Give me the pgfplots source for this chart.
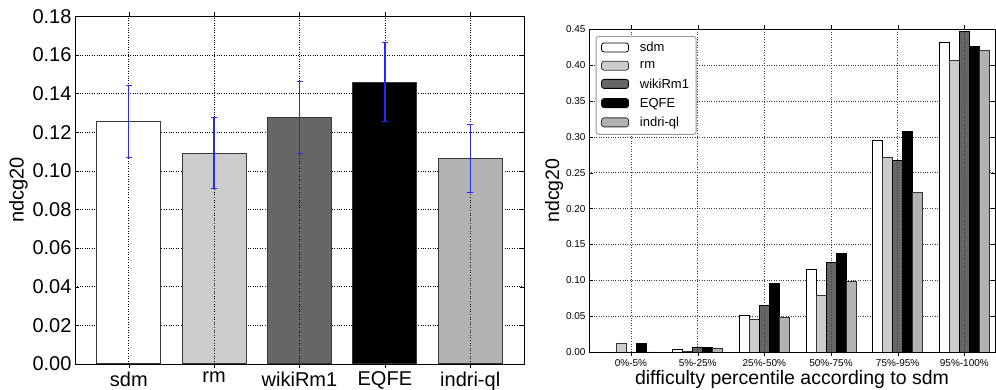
\documentclass[border=0pt]{standalone}
\usepackage{fontspec}
\setmainfont{Liberation Sans}
\usepackage{pgfplots}
\pgfplotsset{compat=1.18}
\definecolor{cSdm}{gray}{1.0}
\definecolor{cRm}{gray}{0.8}
\definecolor{cWiki}{gray}{0.4}
\definecolor{cEqfe}{gray}{0.0}
\definecolor{cIndri}{gray}{0.7}
\definecolor{edgeL}{gray}{0.22}
\definecolor{errB}{rgb}{0.15,0.15,1.0}
\begin{document}
\begin{tikzpicture}[x=1pt,y=1pt]
\useasboundingbox (0,0) rectangle (996,390);
% ---------------- left chart ----------------
\begin{axis}[
  at={(75pt,26pt)}, anchor=south west, scale only axis,
  width=449pt, height=347.7pt,
  xmin=-0.63, xmax=4.63, ymin=0, ymax=0.18,
  ytick={0,0.02,0.04,0.06,0.08,0.10,0.12,0.14,0.16,0.18},
  xtick={0,1,2,3,4},
  xticklabels={sdm,rm,wikiRm1,EQFE,indri-ql},
  /pgf/number format/assume math mode=true,
  yticklabel style={/pgf/number format/.cd,fixed,fixed zerofill,precision=2},
  ticklabel style={font=\fontsize{20}{24}\selectfont},
  ylabel={ndcg20},
  ylabel style={font=\fontsize{20}{24}\selectfont, at={(axis description cs:-0.126,0.5)}, anchor=center},
  grid=major, grid style={black, dotted, line width=0.6pt},
  tick align=inside, major tick length=4pt, tick style={black},
  axis line style={black, line width=0.8pt},
  ybar, bar width=0.75, bar shift=0,
  error bars/y dir=both, error bars/y explicit,
  error bars/error bar style={color=errB, draw=errB, line width=1.4pt},
  error bars/error mark options={rotate=90, color=errB, draw=errB, mark size=3pt, line width=1pt},
]
\addplot[fill=cSdm, draw=edgeL, line width=1pt] coordinates {(0,0.1257) +- (0,0.0187)};
\addplot[fill=cRm, draw=edgeL, line width=1pt] coordinates {(1,0.1092) +- (0,0.0183)};
\addplot[fill=cWiki, draw=edgeL, line width=1pt] coordinates {(2,0.1277) +- (0,0.0187)};
\addplot[fill=cEqfe, draw=edgeL, line width=1pt] coordinates {(3,0.1458) +- (0,0.0204)};
\addplot[fill=cIndri, draw=edgeL, line width=1pt] coordinates {(4,0.1064) +- (0,0.0177)};
% vertical grid lines showing through the bars, below the error bars
\draw[black, dotted, line width=0.6pt] (axis cs:0,0) -- (axis cs:0,0.1070);
\draw[black, dotted, line width=0.6pt] (axis cs:1,0) -- (axis cs:1,0.0909);
\draw[black, dotted, line width=0.6pt] (axis cs:2,0) -- (axis cs:2,0.1090);
\draw[black, dotted, line width=0.6pt] (axis cs:3,0) -- (axis cs:3,0.1254);
\draw[black, dotted, line width=0.6pt] (axis cs:4,0) -- (axis cs:4,0.0887);
\end{axis}
% ---------------- right chart ----------------
\begin{axis}[
  at={(589pt,38pt)}, anchor=south west, scale only axis,
  width=406pt, height=322.7pt,
  xmin=-0.63, xmax=5.46, ymin=0, ymax=0.45,
  ytick={0,0.05,0.10,0.15,0.20,0.25,0.30,0.35,0.40,0.45},
  xtick={0,1,2,3,4,5},
  xticklabels={0\%-5\%,5\%-25\%,25\%-50\%,50\%-75\%,75\%-95\%,95\%-100\%},
  /pgf/number format/assume math mode=true,
  yticklabel style={/pgf/number format/.cd,fixed,fixed zerofill,precision=2},
  ticklabel style={font=\fontsize{10}{12}\selectfont},
  xlabel={difficulty percentile according to sdm},
  ylabel={ndcg20},
  label style={font=\fontsize{19.5}{23}\selectfont},
  ylabel style={at={(axis description cs:-0.086,0.5)}, anchor=center},
  xlabel style={inner sep=0pt},
  ymajorgrids, grid style={black!75, dotted, line width=0.6pt},
  tick align=inside, major tick length=4pt, tick style={black},
  axis line style={black, line width=0.8pt},
  ybar, bar width=0.15,
  legend style={at={(axis description cs:0.0165,0.979)}, anchor=north west,
    draw=black!40, line width=0.9pt, rounded corners=2.5pt,
    font=\fontsize{13}{15}\selectfont, row sep=4.5pt,
    inner xsep=5pt, inner ysep=4pt,
    /tikz/every odd column/.append style={column sep=9pt}},
  legend cell align=left,
  legend image code/.code={\draw[#1, line width=0.8pt] (0pt,-4pt) rectangle (27pt,5pt);},
]
\addplot[fill=cSdm, draw=black, line width=0.8pt, bar shift=-0.3] coordinates
 {(0,0) (1,0.0033) (2,0.0511) (3,0.1148) (4,0.2947) (5,0.4318)};
\addplot[fill=cRm, draw=black!80, line width=0.8pt, bar shift=-0.15] coordinates
 {(0,0.0121) (1,0.0008) (2,0.0451) (3,0.0786) (4,0.2715) (5,0.4072)};
\addplot[fill=cWiki, draw=black, line width=0.8pt, bar shift=0] coordinates
 {(0,0) (1,0.0065) (2,0.0646) (3,0.1250) (4,0.2668) (5,0.4476)};
\addplot[fill=cEqfe, draw=black, line width=0.8pt, bar shift=0.15] coordinates
 {(0,0.0116) (1,0.0065) (2,0.0953) (3,0.1371) (4,0.3072) (5,0.4267)};
\addplot[fill=cIndri, draw=black!80, line width=0.8pt, bar shift=0.3] coordinates
 {(0,0) (1,0.0047) (2,0.0488) (3,0.0986) (4,0.2225) (5,0.4207)};
\legend{sdm,rm,wikiRm1,EQFE,indri-ql}
\pgfplotsinvokeforeach{0,1,2,3,4,5}{\draw[black!75, dotted, line width=0.6pt] (axis cs:#1,0) -- (axis cs:#1,0.45);}
\end{axis}
\end{tikzpicture}
\end{document}
